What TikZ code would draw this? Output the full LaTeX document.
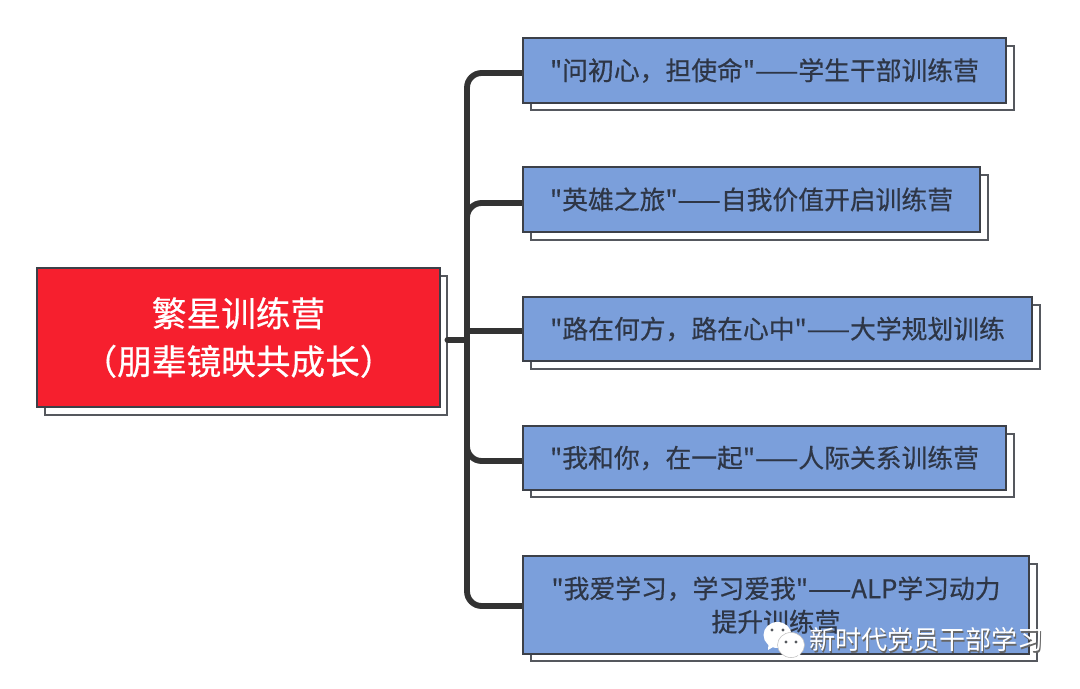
\documentclass[tikz,border=0pt]{standalone}
\usepackage{fontspec}
\newfontfamily\cjk[FakeBold=0.5]{Noto Sans CJK SC}
\newfontfamily\cjkplain{Noto Sans CJK SC}
\usetikzlibrary{calc}
\definecolor{boxblue}{HTML}{7B9FDB}
\definecolor{rootred}{HTML}{F61F2E}
\definecolor{edgegrey}{HTML}{3C4048}
\definecolor{linkgrey}{HTML}{333333}
\definecolor{textdark}{HTML}{2E3646}
\definecolor{shadowgrey}{HTML}{55585E}
\def\px{0.75pt}
\tikzset{
  x=0.75pt,y=-0.75pt,
  shadowbox/.style={draw=shadowgrey,line width=1.6pt,fill=white},
  campbox/.style={draw=edgegrey,line width=1.6pt,fill=boxblue,text=textdark,inner sep=0pt,align=center,font=\cjk\fontsize{19.35pt}{25pt}\selectfont},
  rootbox/.style={draw=edgegrey,line width=2.2pt,fill=rootred,text=white,inner sep=0pt,align=center,font=\cjk\fontsize{26pt}{36pt}\selectfont},
  link/.style={draw=linkgrey,line width=4.4pt,rounded corners=11pt},
  marktext/.style={inner sep=0pt,anchor=west,font=\cjkplain\fontsize{19.5pt}{24pt}\selectfont},
  bubble/.style={fill=white,draw=none},
  eye/.style={fill=shadowgrey,draw=none,circle,inner sep=0pt,minimum size=2.4pt},
}
\begin{document}
\begin{tikzpicture}
\useasboundingbox (0,0) rectangle (1080,688);
\fill[white] (0,0) rectangle (1080,688);
% offset frames
\draw[shadowbox] (45,276) rectangle (447,415);
\draw[shadowbox] (531,46) rectangle (1014,110);
\draw[shadowbox] (531,175) rectangle (988,240);
\draw[shadowbox] (531,305) rectangle (1040,369);
\draw[shadowbox] (531,434) rectangle (1014,497);
\draw[shadowbox] (531,564) rectangle (1037,661);
% boxes
\node[rootbox,minimum width=403*\px,minimum height=139*\px] (root) at (238.5,337.5) {繁星训练营\\（朋辈镜映共成长）};
\node[campbox,minimum width=483*\px,minimum height=65*\px] (c1) at (764.5,70.5) {"问初心，担使命"——学生干部训练营};
\node[campbox,minimum width=457*\px,minimum height=65*\px] (c2) at (751.5,199.5) {"英雄之旅"——自我价值开启训练营};
\node[campbox,minimum width=509*\px,minimum height=64*\px] (c3) at (777.5,329) {"路在何方，路在心中"——大学规划训练};
\node[campbox,minimum width=483*\px,minimum height=64*\px] (c4) at (764.5,458) {"我和你，在一起"——人际关系训练营};
\node[campbox,minimum width=506*\px,minimum height=98*\px] (c5) at (776,605) {"我爱学习，学习爱我"——ALP学习动力\\提升训练营};
% connectors
\coordinate (rootport) at ($(root.east)+(6,2.5)$);
\coordinate (trunk) at (467,340);
\coordinate (p1) at ($(c1.west)+(0,2.5)$);
\coordinate (p2) at ($(c2.west)+(0,3.5)$);
\coordinate (p3) at ($(c3.west)+(0,2)$);
\coordinate (p4) at ($(c4.west)+(0,3)$);
\coordinate (p5) at ($(c5.west)+(0,1)$);
\draw[link,line cap=round] (rootport) -- (trunk);
\draw[link] (trunk) |- (p1);
\draw[link] (trunk) |- (p2);
\draw[link,rounded corners=0pt] (trunk |- p3) -- (p3);
\draw[link] (trunk) |- (p4);
\draw[link] (trunk) |- (p5);
% watermark
\fill[bubble] (777.5,635) ellipse [x radius=14,y radius=13];
\fill[bubble] (769,638) -- (768,650) -- (778,644) -- cycle;
\draw[fill=white,draw=black!25,line width=0.4pt] (791,645) ellipse [x radius=13.5,y radius=12.5];
\fill[bubble] (794,652) -- (800,657) -- (799,648) -- cycle;
\node[eye] (e1) at (772,630) {};
\node[eye] (e2) at (783,630) {};
\node[eye] (e3) at (786,642) {};
\node[eye] (e4) at (796,642) {};
\node[marktext,text=black!60] (markshadow) at (810.2,641.2) {新时代党员干部学习};
\node[marktext,text=white] (mark) at (809,640) {新时代党员干部学习};
\end{tikzpicture}
\end{document}
